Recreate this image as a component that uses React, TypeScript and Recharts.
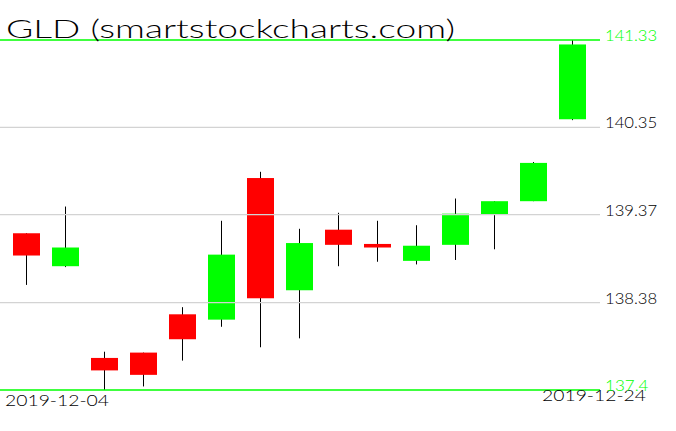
import React from 'react';
import { ComposedChart, Bar, XAxis, YAxis, ReferenceLine } from 'recharts';

const dates = ['2019-12-04', '2019-12-05', '2019-12-06', '2019-12-09', '2019-12-10', '2019-12-11', '2019-12-12', '2019-12-13', '2019-12-16', '2019-12-17', '2019-12-18', '2019-12-19', '2019-12-20', '2019-12-23', '2019-12-24'];
const opens = [139.16, 138.79, 137.76, 137.82, 138.25, 138.19, 139.78, 138.52, 139.2, 139.04, 138.85, 139.03, 139.37, 139.52, 140.44];
const highs = [139.16, 139.46, 137.83, 137.82, 138.33, 139.3, 139.85, 139.21, 139.39, 139.3, 139.25, 139.55, 139.52, 139.96, 141.33];
const lows = [138.58, 138.78, 137.4, 137.44, 137.73, 138.11, 137.88, 137.98, 138.79, 138.84, 138.81, 138.86, 138.98, 139.52, 140.43];
const closes = [138.91, 139.0, 137.62, 137.57, 137.97, 138.92, 138.43, 139.05, 139.03, 139.0, 139.02, 139.38, 139.52, 139.95, 141.28];
const yTicks = [137.4, 138.38, 139.37, 140.35, 141.33];
const gridValues = [138.38, 139.37, 140.35];
const edgeValues = [137.4, 141.33];
const title = 'GLD (smartstockcharts.com)';

const data = dates.map((date, i) => ({
  date,
  open: opens[i],
  high: highs[i],
  low: lows[i],
  close: closes[i],
}));

const GREEN = '#00ff00';
const RED = '#ff0000';
const FONT = "Lato, 'DejaVu Sans', sans-serif";

const Candle = (props: any) => {
  const { x, y, width, height, payload } = props;
  if (x == null || y == null) return <g />;
  const top = Math.min(y, y + height);
  const h = Math.abs(height);
  const { open, close, high, low } = payload;
  const span = high - low;
  const py = (v: number) => (span === 0 ? top : top + ((high - v) / span) * h);
  const cx = x + width / 2;
  const bTop = py(Math.max(open, close));
  const bBot = py(Math.min(open, close));
  const color = close >= open ? GREEN : RED;
  return (
    <g>
      <line x1={cx} x2={cx} y1={top} y2={top + h} stroke="#000" strokeWidth={1} />
      <rect x={x} y={bTop} width={width} height={Math.max(bBot - bTop, 1)} fill={color} />
    </g>
  );
};

const YTick = (props: any) => {
  const { x, y, payload } = props;
  const v = payload.value;
  const edge = edgeValues.includes(v);
  const label = String(v);
  return (
    <text
      x={x}
      y={y - 5}
      dominantBaseline="central"
      fill={edge ? GREEN : '#000'}
      fontSize={15}
      fontFamily={FONT}
      fontWeight={300}
      textAnchor="start"
      textLength={label.length * 8.7}
      lengthAdjust="spacingAndGlyphs"
    >
      {label}
    </text>
  );
};

const XTick = (props: any) => {
  const { index, payload } = props;
  if (index === 0) {
    return (
      <text x={5} y={406} fill="#000" fontSize={15} fontFamily={FONT} fontWeight={300} textLength={104} lengthAdjust="spacingAndGlyphs">
        {payload.value}
      </text>
    );
  }
  if (index === dates.length - 1) {
    return (
      <text x={542} y={401} fill="#000" fontSize={15} fontFamily={FONT} fontWeight={300} textLength={104} lengthAdjust="spacingAndGlyphs">
        {payload.value}
      </text>
    );
  }
  return <g />;
};

export default function App() {
  return (
    <div style={{ position: 'absolute', left: 0, top: 0, width: 676, height: 431, background: '#fff' }}>
      <ComposedChart width={676} height={431} data={data} margin={{ top: 40, right: 0, bottom: 0, left: 0 }}>
        <XAxis
          dataKey="date"
          type="category"
          height={41}
          padding={{ left: 7, right: 8 }}
          axisLine={false}
          tickLine={false}
          interval={0}
          tick={<XTick />}
        />
        <YAxis
          orientation="right"
          width={76}
          domain={[137.4, 141.33]}
          allowDataOverflow
          ticks={yTicks}
          axisLine={false}
          tickLine={false}
          tickSize={0}
          tickMargin={5}
          tick={<YTick />}
        />
        <Bar dataKey={(d: any) => [d.low, d.high]} barSize={27} shape={<Candle />} isAnimationActive={false} />
        {gridValues.map((v) => (
          <ReferenceLine key={v} y={v} stroke="#d3d3d3" strokeWidth={1.3} />
        ))}
        {edgeValues.map((v) => (
          <ReferenceLine key={v} y={v} stroke={GREEN} strokeWidth={1.3} />
        ))}
      </ComposedChart>
      <svg width={676} height={60} style={{ position: 'absolute', left: 0, top: 0, pointerEvents: 'none' }}>
        <text x={6} y={38} fontSize={26} fontFamily={FONT} fontWeight={300} fill="#000" textLength={449} lengthAdjust="spacingAndGlyphs">
          {title}
        </text>
      </svg>
    </div>
  );
}
